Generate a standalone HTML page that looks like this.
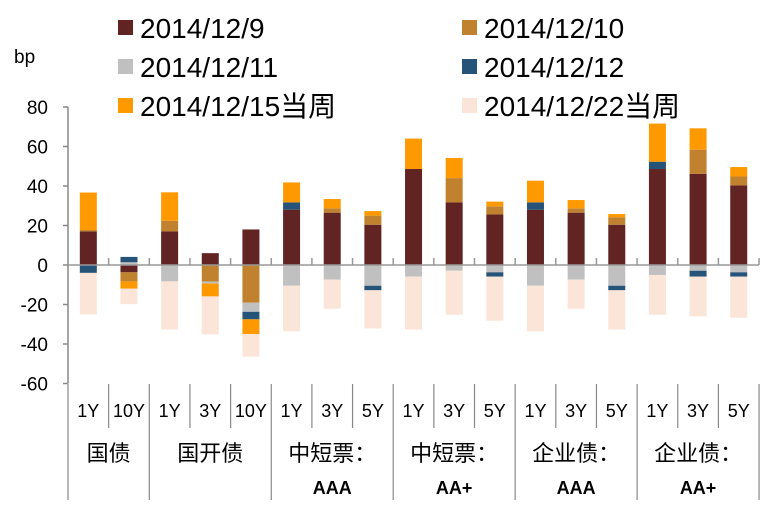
<!DOCTYPE html>
<html><head><meta charset="utf-8"><style>
body{margin:0;background:#fff;}
svg{display:block;font-family:"Liberation Sans","Noto Sans CJK SC",sans-serif;}
</style></head><body>
<svg id="chart" width="766" height="514" viewBox="0 0 766 514"></svg>
<script>
const categories=["1Y","10Y","1Y","3Y","10Y","1Y","3Y","5Y","1Y","3Y","5Y","1Y","3Y","5Y","1Y","3Y","5Y"];
const seriesNames=["2014/12/9","2014/12/10","2014/12/11","2014/12/12","2014/12/15当周","2014/12/22当周"];
const s1=[17,-3.7,17,6,18,28,26.5,20.4,48.6,31.7,25.6,28,26.5,20.4,48.6,46.2,40.3];
const s2=[0.7,-4.6,5.4,-8.4,-19.1,0,2.2,4.6,0,12.3,4.1,0,2.2,3.7,0,12.2,4.5];
const s3=[0,1.4,-8.3,-1,-4.6,-10.5,-7.4,-10.5,-5.9,-2.9,-3.7,-10.5,-7.4,-10.5,-5.1,-2.9,-3.7];
const s4=[-4,2.7,0,0,-3.8,3.7,0,-2.3,0,0,-2.2,3.7,0,-2.3,3.7,-3,-2.2];
const s5=[19,-3.7,14.4,-6.5,-7.5,10.1,4.7,2.3,15.4,10.2,2.4,11,4.2,1.7,19.3,10.8,4.8];
const s6=[-21,-7.8,-24.4,-19.2,-11.4,-23.1,-14.7,-19.3,-26.8,-22.3,-22.3,-23.1,-14.7,-19.9,-20.1,-20.1,-20.8];
const yTicks=[80,60,40,20,0,-20,-40,-60];
const groups=[["国债",""],["国开债",""],["中短票：","AAA"],["中短票：","AA+"],["企业债：","AAA"],["企业债：","AA+"]];
const groupSizes=[2,3,3,3,3,3];
const colors=["#622323","#c0822e","#c0c0c0","#265478","#ff9900","#fbe5d8"];
const NS="http://www.w3.org/2000/svg";
const svg=document.getElementById('chart');
const X0=68,STEP=40.65,Y0=265,PPU=1.975,BW=17;
function y(v){return Y0-v*PPU;}
function xc(i){return X0+STEP*(i+0.5);}
function mk(t,a,parent){const e=document.createElementNS(NS,t);for(const k in a)e.setAttribute(k,a[k]);(parent||svg).appendChild(e);return e;}
const lpos=[[118,140,28],[462,484,28],[118,140,67],[462,484,67],[118,140,106],[462,484,106]];
seriesNames.forEach((n,i)=>{
  const g=mk('g',{});
  
  
  const p=lpos[i];
  mk('rect',{x:p[0],y:p[2]-8,width:15,height:15,fill:colors[i]},g);
  const t=mk('text',{x:p[1],y:p[2]+10,'font-size':28,fill:'#000'},g);t.textContent=n;
});
const bp=mk('text',{x:14,y:63,'font-size':19});bp.textContent='bp';


const ya=mk('line',{x1:X0,y1:y(80),x2:X0,y2:y(-60),stroke:'#888','stroke-width':1.5});


yTicks.forEach(v=>{
  mk('line',{x1:X0-5,y1:y(v),x2:X0,y2:y(v),stroke:'#888','stroke-width':1.5});
  const t=mk('text',{x:48,y:y(v)+7,'font-size':19,'text-anchor':'end'});t.textContent=v;
  
  
});
const series=[s1,s2,s3,s4,s5,s6];
categories.forEach((c,i)=>{
  let pos=0,neg=0;
  series.forEach((s,k)=>{
    const v=s[i];if(!v)return;
    let a,b;
    if(v>0){a=pos;b=pos+v;pos=b;}else{a=neg;b=neg+v;neg=b;}
    const r=mk('rect',{x:xc(i)-BW/2,y:Math.min(y(a),y(b)),width:BW,height:Math.abs(y(a)-y(b)),fill:colors[k]});
    
    
  });
  const t=mk('text',{x:xc(i),y:417,'font-size':18,'text-anchor':'middle'});t.textContent=c;
  
  
});
const xa=mk('line',{x1:X0,y1:Y0,x2:X0+STEP*17,y2:Y0,stroke:'#999','stroke-width':1.5});


for(let i=1;i<=17;i++){mk('line',{x1:X0+STEP*i,y1:Y0,x2:X0+STEP*i,y2:Y0-7,stroke:'#999','stroke-width':1.5});}
let idx=0;
mk('line',{x1:X0,y1:384,x2:X0,y2:500,stroke:'#888','stroke-width':1.2});
groups.forEach((g,gi)=>{
  const start=idx,end=idx+groupSizes[gi];
  for(let j=start+1;j<end;j++)mk('line',{x1:X0+STEP*j,y1:384,x2:X0+STEP*j,y2:428,stroke:'#888','stroke-width':1.2});
  mk('line',{x1:X0+STEP*end,y1:384,x2:X0+STEP*end,y2:500,stroke:'#888','stroke-width':1.2});
  const cx=X0+STEP*(start+end)/2;
  const t=mk('text',{x:cx,y:461,'font-size':22,'text-anchor':'middle'});t.textContent=g[0];
  
  
  if(g[1]){const t2=mk('text',{x:cx,y:494,'font-size':18,'font-weight':'bold','text-anchor':'middle'});t2.textContent=g[1];
    
    }
  idx=end;
});
</script>
</body></html>
